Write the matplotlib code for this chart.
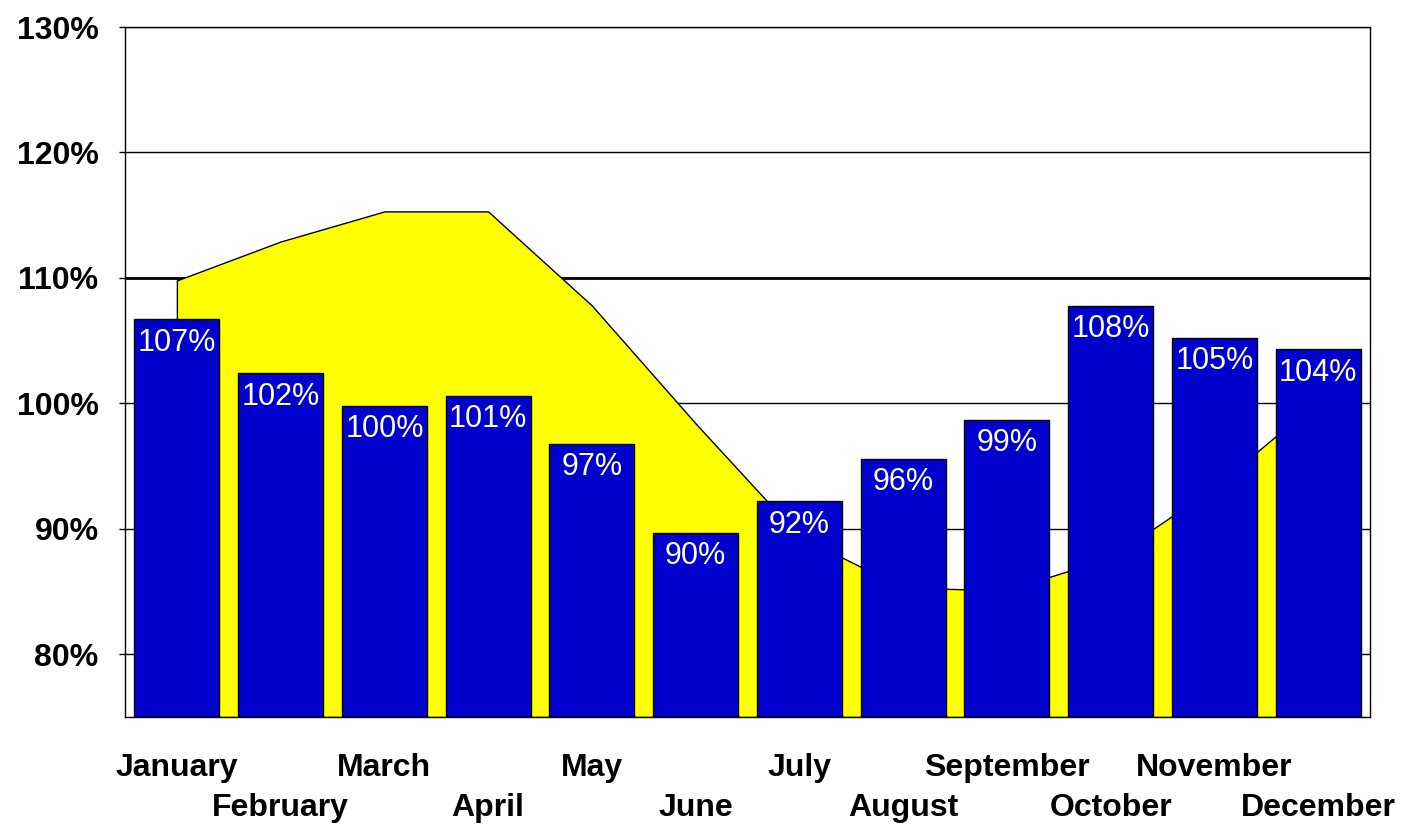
import matplotlib
matplotlib.use("Agg")
import matplotlib.pyplot as plt

## Data ##

months = ["January", "February", "March", "April", "May", "June",
          "July", "August", "September", "October", "November", "December"]

# blue bars (%)
bar_values = [106.7, 102.4, 99.8, 100.6, 96.8, 89.7,
              92.2, 95.6, 98.7, 107.8, 105.2, 104.3]

# yellow area behind the bars (%)
area_values = [109.8, 112.9, 115.3, 115.3, 107.8, 98.4,
               89.4, 85.3, 85.1, 87.7, 93.3, 100.2]

y_ticks = [80, 90, 100, 110, 120, 130]

####

plt.rcParams["font.family"] = ["Liberation Sans", "DejaVu Sans"]

fig = plt.figure(figsize=(14.08, 8.24), dpi=100)
ax = fig.add_axes([125 / 1408, 1 - 717 / 824, 1245 / 1408, 690 / 824])

x = list(range(len(months)))

# gridlines behind everything
for t in y_ticks:
    ax.axhline(t, color="black", lw=2.0 if t == 110 else 1.0, zorder=0)

# yellow area
ax.fill_between(x, 75, area_values, facecolor="#FFFF00", edgecolor="black",
                lw=1.0, zorder=1)

# blue bars
bars = ax.bar(x, [v - 75 for v in bar_values], bottom=75, width=0.82,
              color="#0000CC", edgecolor="black", lw=1.0, zorder=2)

for xi, v in zip(x, bar_values):
    ax.annotate(f"{round(v)}%", (xi, v), xytext=(0, -6), textcoords="offset points",
                ha="center", va="top", color="white", fontsize=22, zorder=3)

ax.set_xlim(-0.5, len(months) - 0.5)
ax.set_ylim(75, 130)

ax.set_yticks(y_ticks)
ax.set_yticklabels([f"{t}%" for t in y_ticks], fontsize=23, fontweight="bold")
ax.tick_params(axis="y", length=4, width=1, pad=15)

# staggered month labels: even months on first row, odd months on second row
ax.set_xticks(x[0::2])
ax.set_xticklabels(months[0::2], fontsize=23, fontweight="bold")
ax.set_xticks(x[1::2], minor=True)
ax.set_xticklabels(months[1::2], minor=True, fontsize=23, fontweight="bold")
ax.tick_params(axis="x", which="major", length=0, pad=26)
ax.tick_params(axis="x", which="minor", length=0, pad=55)

for s in ax.spines.values():
    s.set_linewidth(1.0)
    s.set_color("black")

fig.savefig("out.png", dpi=100)
